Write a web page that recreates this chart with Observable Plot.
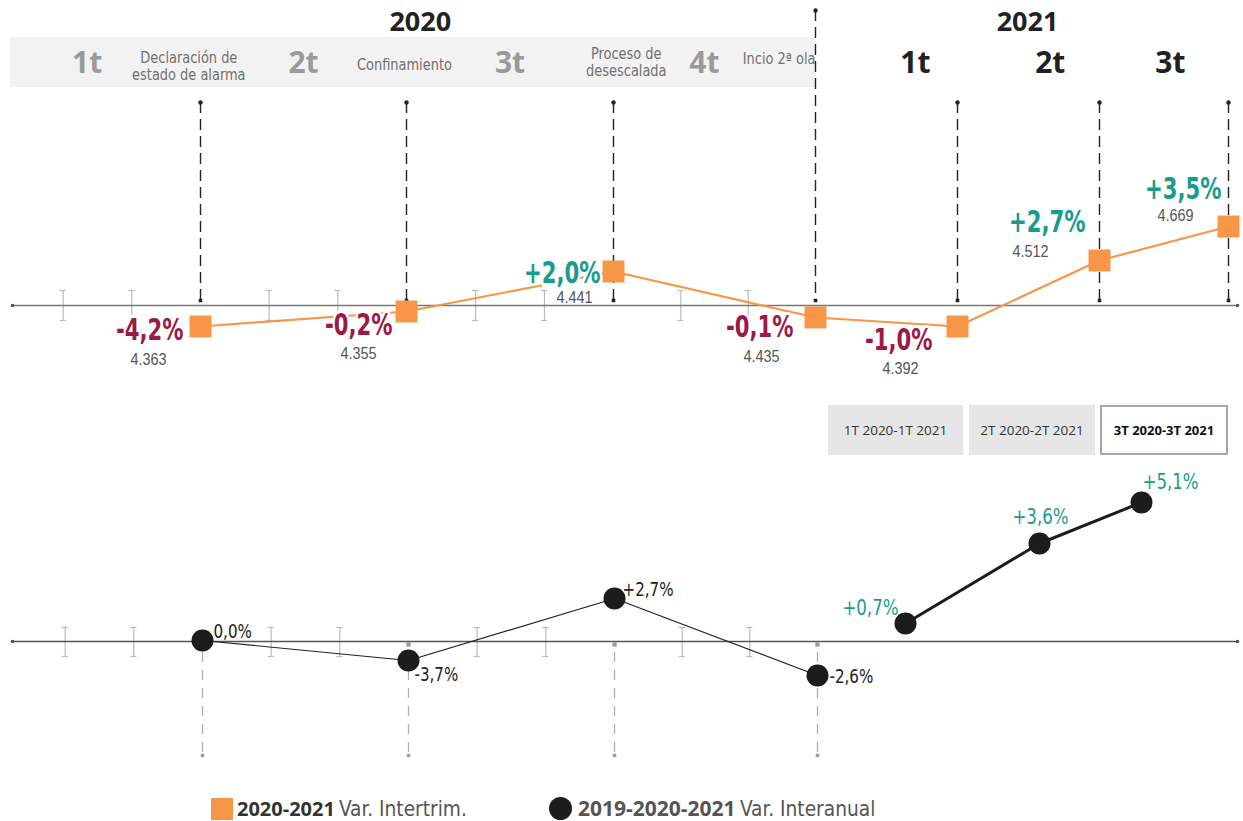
<!DOCTYPE html>
<html>
<head>
<meta charset="utf-8">
<script src="https://cdn.jsdelivr.net/npm/d3@7"></script>
<script src="https://cdn.jsdelivr.net/npm/@observablehq/plot@0.6"></script>
<style>
  body { margin: 0; background: #fff; }
  #root { position: relative; width: 1243px; height: 821px; overflow: hidden; font-family: "Open Sans", sans-serif; }
  #top { position: absolute; left: 0; top: 0; }
  #bottom { position: absolute; left: 0; top: 460px; }
  #tabs { position: absolute; top: 405px; left: 828px; display: flex; }
  .tab { height: 50px; display: flex; align-items: center; justify-content: center; font-size: 13.5px; color: #333; background: #e6e6e6; box-sizing: border-box; }
  .tab.sel { background: #fff; border: 2px solid #a8a8a8; font-weight: 700; color: #111; font-size: 13px; }
  .leg { position: absolute; top: 797px; display: flex; align-items: center; height: 23px; white-space: nowrap; line-height: 1; }
  .leg b { font-family: "Open Sans", sans-serif; font-weight: 700; font-size: 20px; color: #333; line-height: 1; }
  .leg span { font-family: "DejaVu Sans Condensed", sans-serif; font-size: 22px; color: #555; line-height: 1; display: inline-block; transform: scaleX(0.94); transform-origin: left center; }
</style>
</head>
<body>
<div id="root">
  <div id="top"></div>
  <div id="tabs"></div>
  <div id="bottom"></div>
  <div id="legend"></div>
</div>
<script>
// ---------- DATA ----------
const trimestres = ["1T 2020", "2T 2020", "3T 2020", "4T 2020", "1T 2021", "2T 2021", "3T 2021"];
const mesFin = [3, 6, 9, 12, 15, 18, 21];               // month index at end of each quarter
const ocupados = [4363, 4355, 4441, 4435, 4392, 4512, 4669];
const varIntertrim = [-4.2, -0.2, 2.0, -0.1, -1.0, 2.7, 3.5];
const varInteranual = [0.0, -3.7, 2.7, -2.6, 0.7, 3.6, 5.1];
const tramoInteranual = ["2019-2020", "2019-2020", "2019-2020", "2019-2020", "2020-2021", "2020-2021", "2020-2021"];
const mesesIntermedios = [1, 2, 4, 5, 7, 8, 10, 11];
const anios = ["2020", "2021"];
const etiquetas2020 = ["1t", "2t", "3t", "4t"];
const etiquetas2021 = ["1t", "2t", "3t"];
const hitos = ["Declaración de\nestado de alarma", "Confinamiento", "Proceso de\ndesescalada", "Incio 2ª ola"];
const pestanas = ["1T 2020-1T 2021", "2T 2020-2T 2021", "3T 2020-3T 2021"];
const leyenda = [["2020-2021", "Var. Intertrim."], ["2019-2020-2021", "Var. Interanual"]];

// ---------- LAYOUT (display heights / label placement) ----------
const nivelTrim = [-2.1, -0.6, 3.4, -1.2, -2.1, 4.5, 7.9];
const offTrim = [[-17, 4, -52, 33], [-14, 14, -48, 42], [-13, 2, -39, 26], [-22, 10, -54, 39], [-25, 14, -57, 42], [-14, -38, -69, -9], [-7, -37, -53, -11]];
const nivelInter = [0.1, -1.9, 4.3, -3.4, 1.8, 9.8, 13.9];
const offInter = [[11, -9, "start"], [6, 14, "start"], [8, -9, "start"], [12, 1, "start"], [-7, -16, "end"], [1, -27, "middle"], [1, -21, "start"]];
const posAnios = [6.2, 16.48];
const pos2020 = [1.35, 4.5, 7.5, 10.35];
const pos2021 = [14.11, 16.96, 19.65];
const posHitos = [[2.83, 23.95, "middle"], [5.97, 24.1, "middle"], [9.19, 24.35, "middle"], [10.92, 24.7, "start"]];

// ---------- FORMAT ----------
const fmtNum = d3.formatLocale({decimal: ",", thousands: ".", grouping: [3], currency: ["", "€"]}).format(",d");
const fmtPct = v => (v > 0 ? "+" : "") + d3.format(".1f")(v).replace("−", "-").replace(".", ",") + "%";

const ORANGE = "#F79646", RED = "#9B1B46", TEAL = "#1A9C8C";
// font stacks (each one gets its own horizontal squeeze after rendering)
const F_PCT = '"DejaVu Sans Condensed", sans-serif';
const F_EVT = '"DejaVu Sans Condensed", "DejaVu Sans", sans-serif';
const F_BOT = '"DejaVu Sans Condensed", "Liberation Sans", sans-serif';
const F_NUM = '"Liberation Sans", sans-serif';
const SQUEEZE = {[F_PCT]: 0.76, [F_EVT]: 0.9, [F_BOT]: 0.84, [F_NUM]: 0.85};

const topData = trimestres.map((t, i) => ({t, mes: mesFin[i], n: ocupados[i], v: varIntertrim[i], nivel: nivelTrim[i], off: offTrim[i]}));
const botData = trimestres.map((t, i) => ({t, mes: mesFin[i], v: varInteranual[i], tramo: tramoInteranual[i], nivel: nivelInter[i], off: offInter[i]}));

function squeeze(svg) {
  svg.querySelectorAll("g[font-family]").forEach(g => {
    const k = SQUEEZE[g.getAttribute("font-family")];
    if (!k) return;
    g.querySelectorAll("text").forEach(t => {
      t.setAttribute("transform", (t.getAttribute("transform") || "") + ` scale(${k},1)`);
    });
  });
  return svg;
}

// ---------- TOP PLOT ----------
const topMarks = [
  Plot.rect([0], {x1: 0.23, x2: 12, y1: 21.8, y2: 26.8, fill: "#f2f2f2"}),
  Plot.text(anios, {x: (d, i) => posAnios[i], y: 28.3, text: d => d, fontFamily: "Open Sans", fontWeight: 700, fontSize: 27, fill: "#222"}),
  Plot.text(etiquetas2020, {x: (d, i) => pos2020[i], y: 24.2, text: d => d, fontFamily: "Open Sans", fontWeight: 700, fontSize: 30, fill: "#9a9a9a"}),
  Plot.text(etiquetas2021, {x: (d, i) => pos2021[i], y: 24.2, text: d => d, fontFamily: "Open Sans", fontWeight: 700, fontSize: 30, fill: "#222"}),
  ...hitos.map((h, i) => Plot.text([h], {x: posHitos[i][0], y: posHitos[i][1], text: d => d, textAnchor: posHitos[i][2], lineHeight: 1.05, fontFamily: F_EVT, fontSize: 16, fill: "#707070"})),
  // month ticks
  Plot.ruleX(mesesIntermedios, {x: d => d, y1: -1.5, y2: 1.5, stroke: "#bbb", strokeWidth: 1.2}),
  Plot.ruleY(mesesIntermedios, {x1: d => d - 0.045, x2: d => d + 0.045, y: 1.5, stroke: "#bbb", strokeWidth: 1.2}),
  Plot.ruleY(mesesIntermedios, {x1: d => d - 0.045, x2: d => d + 0.045, y: -1.5, stroke: "#bbb", strokeWidth: 1.2}),
  // baseline
  Plot.ruleY([0], {stroke: "#777", strokeWidth: 1.5}),
  Plot.dot([0], {y: 0, frameAnchor: "left", r: 1.8, fill: "#555"}),
  Plot.dot([0], {y: 0, frameAnchor: "right", r: 1.8, fill: "#555"}),
  // quarter dashed lines
  Plot.ruleX(topData, {x: "mes", y1: d => d.mes === 12 ? 29.5 : 20.3, y2: 0.5, stroke: "#222", strokeWidth: 1.4, strokeDasharray: "11,6"}),
  Plot.dot(topData, {x: "mes", y: d => d.mes === 12 ? 29.5 : 20.3, r: 2.2, fill: "#222"}),
  Plot.dot(topData, {x: "mes", y: 0.5, symbol: "square", r: 2, fill: "#222"}),
  // series
  Plot.line(topData, {x: "mes", y: "nivel", stroke: ORANGE, strokeWidth: 2.2}),
  ...topData.map(d => Plot.text([d], {x: "mes", y: "nivel", text: d => fmtPct(d.v), dx: d.off[0], dy: d.off[1], textAnchor: "end", fontFamily: F_PCT, fontWeight: 700, fontSize: 31, fill: d.v > 0 ? TEAL : RED, stroke: "#fff", strokeWidth: 6, paintOrder: "stroke"})),
  ...topData.map(d => Plot.text([d], {x: "mes", y: "nivel", text: d => fmtNum(d.n), dx: d.off[2], dy: d.off[3], textAnchor: "middle", fontFamily: F_NUM, fontSize: 17, fill: "#555"})),
  Plot.dot(topData, {x: "mes", y: "nivel", symbol: "square", r: 12.4, fill: ORANGE})
];

const topPlot = Plot.plot({
  width: 1243, height: 400, marginLeft: 12, marginRight: 6, marginTop: 0, marginBottom: 0,
  x: {type: "linear", domain: [0, 3, 6, 9, 12, 15, 18, 21], range: [-6, 200, 406, 613, 815, 957, 1099, 1228], axis: null},
  y: {domain: [-9.5, 30.5], range: [400, 0], axis: null},
  marks: topMarks
});
document.getElementById("top").appendChild(squeeze(topPlot));

// ---------- TABS ----------
const tabW = [135, 126, 128], tabGap = [6, 5, 0];
const tabs = document.getElementById("tabs");
pestanas.forEach((p, i) => {
  const el = document.createElement("div");
  el.className = "tab" + (i === pestanas.length - 1 ? " sel" : "");
  el.style.width = tabW[i] + "px";
  el.style.marginRight = tabGap[i] + "px";
  el.textContent = p;
  tabs.appendChild(el);
});

// ---------- BOTTOM PLOT ----------
const q2020 = botData.filter(d => d.mes <= 12);
const botMarks = [
  Plot.ruleX(mesesIntermedios, {x: d => d, y1: -1.5, y2: 1.4, stroke: "#bbb", strokeWidth: 1.2}),
  Plot.ruleY(mesesIntermedios, {x1: d => d - 0.045, x2: d => d + 0.045, y: 1.4, stroke: "#bbb", strokeWidth: 1.2}),
  Plot.ruleY(mesesIntermedios, {x1: d => d - 0.045, x2: d => d + 0.045, y: -1.5, stroke: "#bbb", strokeWidth: 1.2}),
  Plot.ruleX(q2020, {x: "mes", y1: -1.1, y2: -11.4, stroke: "#b0b0b0", strokeWidth: 1.3, strokeDasharray: "10,8"}),
  Plot.dot(q2020, {x: "mes", y: -11.4, r: 2, fill: "#a0a0a0"}),
  Plot.ruleY([0], {stroke: "#555", strokeWidth: 1.5}),
  Plot.dot([0], {y: 0, frameAnchor: "left", r: 1.8, fill: "#555"}),
  Plot.dot([0], {y: 0, frameAnchor: "right", r: 1.8, fill: "#555"}),
  Plot.dot(q2020, {x: "mes", y: -0.3, symbol: "square", r: 2.4, fill: "#999"}),
  Plot.line(botData.filter(d => d.tramo === "2019-2020"), {x: "mes", y: "nivel", stroke: "#222", strokeWidth: 1.2}),
  Plot.line(botData.filter(d => d.tramo === "2020-2021"), {x: "mes", y: "nivel", stroke: "#1c1c1c", strokeWidth: 3}),
  Plot.dot(botData, {x: "mes", y: "nivel", r: 11, fill: "#1c1c1c"}),
  ...botData.map(d => Plot.text([d], {x: "mes", y: "nivel", text: d => fmtPct(d.v), dx: d.off[0], dy: d.off[1], textAnchor: d.off[2], fontFamily: F_BOT, fontSize: d.tramo === "2020-2021" ? 22 : 20, fill: d.tramo === "2020-2021" ? TEAL : "#222"}))
];
const botPlot = Plot.plot({
  width: 1243, height: 320, marginLeft: 12, marginRight: 6, marginTop: 0, marginBottom: 0,
  x: {type: "linear", domain: [0, 3, 6, 9, 12, 15, 18, 21], range: [-4, 202, 408, 614, 817, 905, 1039, 1141], axis: null},
  y: {domain: [-13.9, 18.1], range: [320, 0], axis: null},
  marks: botMarks
});
document.getElementById("bottom").appendChild(squeeze(botPlot));

// ---------- LEGEND ----------
const root = document.getElementById("root");
const legLeft = [211, 549];
leyenda.forEach((l, i) => {
  const el = document.createElement("div");
  el.className = "leg";
  el.style.left = legLeft[i] + "px";
  const sw = i === 0
    ? '<div style="width:22px;height:22px;background:' + ORANGE + ';margin-right:4px"></div>'
    : '<div style="width:23px;height:23px;border-radius:50%;background:#1c1c1c;margin-right:6px"></div>';
  el.innerHTML = sw + '<b style="color:' + (i === 0 ? '#333' : '#555') + (i === 1 ? ';font-size:21px' : '') + '">' + l[0] + '</b><span style="margin-left:4px">' + l[1] + '</span>';
  root.appendChild(el);
});
</script>
</body>
</html>
